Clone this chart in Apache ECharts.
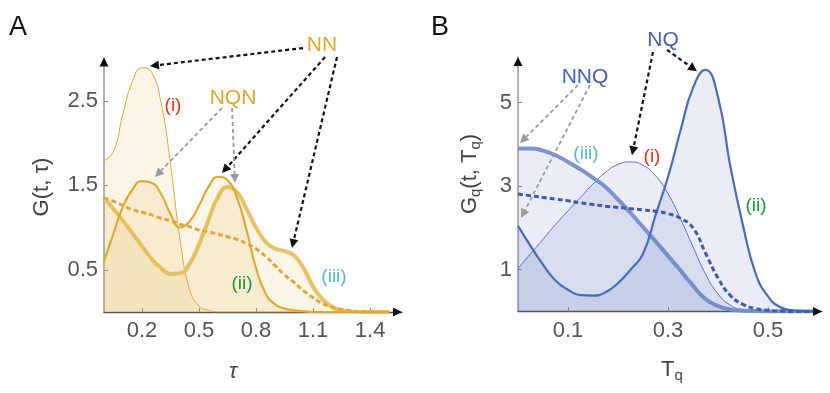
<!DOCTYPE html>
<html>
<head>
<meta charset="utf-8">
<script src="https://cdn.jsdelivr.net/npm/echarts@6/dist/echarts.min.js"></script>
<style>
  html, body { margin: 0; background: #fff; }
  #chart { width: 830px; height: 393px; }
</style>
</head>
<body>
<div id="chart"></div>
<script>
// ---- panel A : G(t, tau) ----
const tauA = [0, 0.05, 0.1, 0.15, 0.2, 0.25, 0.3, 0.35, 0.4, 0.45, 0.5, 0.55, 0.6, 0.65, 0.7, 0.75,
  0.8, 0.85, 0.9, 0.95, 1.0, 1.05, 1.1, 1.15, 1.2, 1.25, 1.3, 1.35, 1.4, 1.45, 1.5];
const gA_i = [1.79, 1.90, 2.35, 2.73, 2.89, 2.84, 2.48, 1.75, 0.86, 0.27, 0.07, 0.02, 0, 0, 0, 0,
  0, 0, 0, 0, 0, 0, 0, 0, 0, 0, 0, 0, 0, 0, 0];
const gA_ii = [0.60, 0.93, 1.25, 1.45, 1.55, 1.53, 1.40, 1.16, 1.00, 1.07, 1.26, 1.48, 1.60, 1.56, 1.35, 0.97,
  0.52, 0.22, 0.09, 0.04, 0.02, 0.01, 0, 0, 0, 0, 0, 0, 0, 0, 0];
const gA_iii = [1.35, 1.22, 1.08, 0.93, 0.78, 0.63, 0.52, 0.45, 0.46, 0.57, 0.80, 1.09, 1.36, 1.48, 1.42, 1.22,
  1.00, 0.83, 0.75, 0.72, 0.67, 0.52, 0.30, 0.15, 0.06, 0.02, 0.01, 0, 0, 0, 0];
const gA_dash = [1.35, 1.31, 1.26, 1.21, 1.18, 1.15, 1.11, 1.08, 1.04, 1.01, 0.97, 0.95, 0.92, 0.89, 0.86, 0.81,
  0.75, 0.66, 0.55, 0.44, 0.35, 0.25, 0.17, 0.10, 0.06, 0.03, 0.01, 0.005, 0, 0, 0];
const ticksAx = [0.2, 0.5, 0.8, 1.1, 1.4];
const ticksAy = [0.5, 1.5, 2.5];

// ---- panel B : Gq(t, Tq) ----
const tqB = [0, 0.025, 0.05, 0.075, 0.1, 0.125, 0.15, 0.175, 0.2, 0.225, 0.25, 0.275, 0.3, 0.325,
  0.35, 0.375, 0.4, 0.425, 0.45, 0.475, 0.5, 0.525, 0.55, 0.575, 0.6];
const gB_i = [1.03, 1.38, 1.73, 2.08, 2.41, 2.73, 3.05, 3.33, 3.52, 3.58, 3.50, 3.25, 2.82, 2.22,
  1.55, 0.90, 0.42, 0.15, 0.04, 0.01, 0, 0, 0, 0, 0];
const gB_ii = [2.05, 1.57, 1.12, 0.74, 0.52, 0.39, 0.38, 0.46, 0.68, 1.00, 1.38, 2.30, 3.22, 4.33,
  5.35, 5.78, 5.13, 3.45, 2.06, 0.92, 0.36, 0.10, 0.03, 0.01, 0];
const gB_iii = [3.90, 3.90, 3.85, 3.74, 3.58, 3.40, 3.20, 2.98, 2.68, 2.36, 2.02, 1.68, 1.33, 0.98,
  0.62, 0.30, 0.13, 0.05, 0.02, 0.01, 0, 0, 0, 0, 0];
const gB_dash = [2.81, 2.77, 2.73, 2.69, 2.65, 2.60, 2.56, 2.52, 2.49, 2.46, 2.43, 2.40, 2.34, 2.23,
  2.00, 1.40, 0.80, 0.38, 0.17, 0.07, 0.03, 0.01, 0, 0, 0];
const ticksBx = [0.1, 0.3, 0.5];
const ticksBy = [1, 3, 5];

// annotation arrows, in data coords of each panel: [from, to, dark?]
const arrowsA = [
  [[1.047, 3.124], [0.242, 2.911], true],
  [[1.163, 3.018], [0.621, 1.645], true],
  [[1.226, 3.018], [0.989, 0.757], true],
  [[0.621, 2.414], [0.268, 1.598], false],
  [[0.674, 2.414], [0.689, 1.527], false]
];
const arrowsB = [
  [[0.270, 6.21], [0.228, 3.74], true],
  [[0.298, 6.26], [0.358, 5.75], true],
  [[0.120, 5.42], [0.004, 4.03], false],
  [[0.144, 5.42], [0.006, 2.24], false]
];

const FONT = '"Liberation Sans", Arial, sans-serif';
const gold = '#DFA935', goldThick = '#E8C264', goldFill = 'rgba(225,170,50,0.17)';
const blue = '#5068B8', blueThin = '#5A72BE', blueThick = '#7F93CE', blueDash = '#4059AA',
  blueFill = 'rgba(80,104,180,0.17)';

const chart = echarts.init(document.getElementById('chart'));

function pairs(xs, ys) { return xs.map((x, i) => [x, ys[i]]); }

function curve(idx, xs, ys, color, width, fill, dashed, z) {
  return {
    type: 'line', xAxisIndex: idx, yAxisIndex: idx,
    data: pairs(xs, ys), smooth: 0.5, showSymbol: false, symbol: 'none',
    lineStyle: { color: color, width: width, type: dashed ? [5, 3] : 'solid' },
    areaStyle: fill ? { color: fill } : undefined,
    z: z, silent: true, animation: false
  };
}

function xAxis(idx, max, ticks) {
  return {
    type: 'value', gridIndex: idx, min: 0, max: max,
    axisLine: { show: true, onZero: false, lineStyle: { color: '#555', width: 1.3 } },
    axisTick: { show: true, inside: true, length: 4, customValues: ticks, lineStyle: { color: '#888' } },
    axisLabel: { customValues: ticks, margin: 8, fontSize: 22, color: '#555', fontFamily: FONT },
    splitLine: { show: false }
  };
}
function yAxis(idx, max, ticks) {
  return {
    type: 'value', gridIndex: idx, min: 0, max: max,
    axisLine: { show: true, onZero: false, lineStyle: { color: '#9a9a9a', width: 1.5 } },
    axisTick: { show: true, inside: true, length: 4, customValues: ticks, lineStyle: { color: '#888' } },
    axisLabel: { customValues: ticks, margin: 6, fontSize: 22, color: '#555', fontFamily: FONT },
    splitLine: { show: false }
  };
}

chart.setOption({
  backgroundColor: '#fff',
  animation: false,
  grid: [
    { left: 104, top: 57.5, width: 298, height: 254.5 },
    { left: 518, top: 57, width: 304, height: 254.5 }
  ],
  xAxis: [xAxis(0, 1.568, ticksAx), xAxis(1, 0.608, ticksBx)],
  yAxis: [yAxis(0, 3.012, ticksAy), yAxis(1, 6.09, ticksBy)],
  series: [
    curve(0, tauA, gA_i, gold, 1, goldFill, false, 2),
    curve(0, tauA, gA_ii, gold, 2.2, goldFill, false, 3),
    curve(0, tauA, gA_iii, goldThick, 4, goldFill, false, 2),
    curve(0, tauA, gA_dash, gold, 3, null, true, 4),
    curve(1, tqB, gB_i, blueThin, 1, blueFill, false, 2),
    curve(1, tqB, gB_ii, blue, 2.2, blueFill, false, 3),
    curve(1, tqB, gB_iii, blueThick, 4, blueFill, false, 2),
    curve(1, tqB, gB_dash, blueDash, 3, null, true, 4)
  ]
});

// ---- overlays: arrows, labels, axis titles ----
const gfx = [];

function arrow(p0, p1, color, width, dash, L, W) {
  const dx = p1[0] - p0[0], dy = p1[1] - p0[1];
  const len = Math.sqrt(dx * dx + dy * dy);
  const ux = dx / len, uy = dy / len;
  const bx = p1[0] - ux * L, by = p1[1] - uy * L;
  gfx.push({
    type: 'line', z: 50, silent: true,
    shape: { x1: p0[0], y1: p0[1], x2: bx, y2: by },
    style: { stroke: color, lineWidth: width, lineDash: dash }
  });
  gfx.push({
    type: 'polygon', z: 51, silent: true,
    shape: { points: [p1, [bx - uy * W, by + ux * W], [bx + uy * W, by - ux * W]] },
    style: { fill: color }
  });
}

function drawArrows(list, gi) {
  list.forEach(a => {
    const p0 = chart.convertToPixel({ gridIndex: gi }, a[0]);
    const p1 = chart.convertToPixel({ gridIndex: gi }, a[1]);
    if (a[2]) arrow(p0, p1, '#111', 2.2, [4, 3], 9, 4.5);
    else arrow(p0, p1, '#9a9a9a', 1.8, [4, 3], 9, 4.5);
  });
}
drawArrows(arrowsA, 0);
drawArrows(arrowsB, 1);

// axis end arrowheads
function axisHeads(gi, xmax, ymax) {
  const o = chart.convertToPixel({ gridIndex: gi }, [0, 0]);
  const ex = chart.convertToPixel({ gridIndex: gi }, [xmax, 0]);
  const ey = chart.convertToPixel({ gridIndex: gi }, [0, ymax]);
  gfx.push({ type: 'polygon', z: 60, silent: true,
    shape: { points: [[ex[0], o[1]], [ex[0] - 9, o[1] - 4.5], [ex[0] - 9, o[1] + 4.5]] },
    style: { fill: '#111' } });
  gfx.push({ type: 'polygon', z: 60, silent: true,
    shape: { points: [[o[0], ey[1]], [o[0] - 4.5, ey[1] + 9], [o[0] + 4.5, ey[1] + 9]] },
    style: { fill: '#111' } });
}
axisHeads(0, 1.568, 3.012);
axisHeads(1, 0.608, 6.09);

function label(text, x, y, color, size, extra) {
  gfx.push(Object.assign({
    type: 'text', x: x, y: y, z: 70, silent: true,
    style: Object.assign({
      text: text, fill: color, fontSize: size, fontFamily: FONT,
      align: 'center', verticalAlign: 'middle', textAlign: 'center', textVerticalAlign: 'middle'
    }, extra && extra.style)
  }, extra && extra.el));
}

const red = '#E8341C', green = '#1E9A3A', cyan = '#5BB8D0';
label('A', 18, 28, '#111', 27);
label('B', 440, 28, '#111', 27);
label('NN', 322, 45, '#E0A82E', 21);
label('NQN', 233, 98, '#E0A82E', 21);
label('(i)', 173, 106, red, 19);
label('(ii)', 242, 284, green, 19);
label('(iii)', 334, 277, cyan, 19);
label('NQ', 663, 40, '#4560B0', 21);
label('NNQ', 585, 77, '#4560B0', 21);
label('(iii)', 586, 154, cyan, 19);
label('(i)', 652, 157, red, 19);
label('(ii)', 756, 206, green, 19);

// axis titles
label('τ', 233, 372, '#444', 22, { style: { fontStyle: 'italic' } });
label('T{s|q}', 672, 370, '#444', 22, { style: {
  lineHeight: 26,
  rich: { s: { fontSize: 15, fill: '#444', fontFamily: FONT, verticalAlign: 'bottom', lineHeight: 18 } }
} });
label('G(t, τ)', 42, 187, '#444', 22, { el: { rotation: Math.PI / 2 } });
label('G{s|q}(t, T{s|q})', 470, 174, '#444', 22, { el: { rotation: Math.PI / 2 }, style: {
  lineHeight: 26,
  rich: { s: { fontSize: 15, fill: '#444', fontFamily: FONT, verticalAlign: 'bottom', lineHeight: 18 } }
} });

chart.setOption({ graphic: { elements: gfx } });
</script>
</body>
</html>
